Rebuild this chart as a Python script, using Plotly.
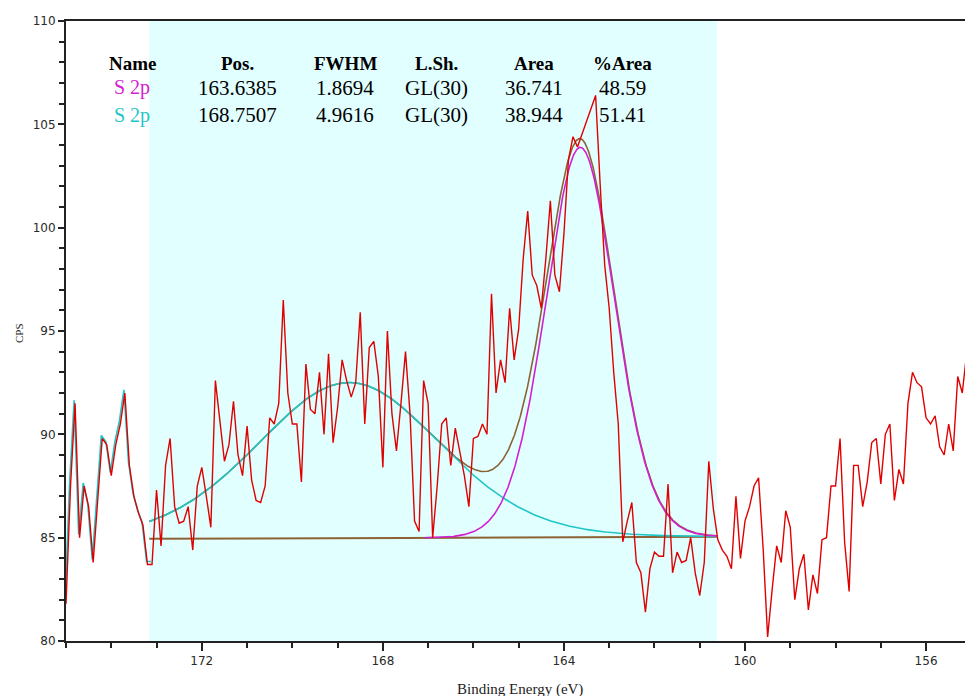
import numpy as np
import plotly.graph_objects as go

# ---- measured spectrum (S 2p region), 0.1 eV steps from 175.0 eV downwards ----
be_first = 175.0
be_step = 0.1
cps = [
    81.8, 87.5, 91.5, 85.0, 87.5, 86.5, 83.8, 86.8, 89.8, 89.5,   # 175.0-174.1
    88.0, 89.5, 90.5, 92.0, 88.5, 87.0, 86.2, 85.6, 83.7, 83.7,   # 174.0-173.1
    87.3, 84.6, 88.5, 89.8, 86.5, 85.7, 85.8, 86.5, 84.4, 87.5,   # 173.0-172.1
    88.4, 87.0, 85.5, 92.6, 90.5, 88.7, 89.5, 91.6, 89.0, 88.0,   # 172.0-171.1
    90.4, 87.8, 86.8, 86.7, 87.5, 90.8, 90.5, 91.5, 96.5, 92.0,   # 171.0-170.1
    90.5, 90.5, 87.7, 93.4, 91.2, 91.0, 93.0, 90.0, 93.9, 89.6,   # 170.0-169.1
    91.3, 93.6, 92.6, 91.8, 92.5, 95.9, 90.5, 94.2, 94.5, 92.8,   # 169.0-168.1
    88.4, 95.0, 91.0, 89.2, 91.5, 94.0, 91.0, 85.8, 85.3, 92.6,   # 168.0-167.1
    91.5, 85.0, 87.5, 90.5, 90.8, 88.5, 90.3, 89.2, 88.0, 86.5,   # 167.0-166.1
    89.8, 89.9, 90.5, 90.0, 96.8, 92.0, 93.6, 92.5, 96.1, 93.6,   # 166.0-165.1
    95.1, 98.5, 100.8, 97.7, 97.2, 96.1, 98.5, 101.3, 97.7, 96.9, # 165.0-164.1
    99.7, 103.3, 104.4, 103.9, 104.5, 105.1, 105.7, 106.4, 102.1, 98.2,  # 164.0-163.1
    96.1, 93.0, 90.5, 84.8, 85.8, 86.7, 83.8, 83.3, 81.4, 83.5,   # 163.0-162.1
    84.3, 84.1, 84.1, 87.6, 83.3, 84.3, 83.8, 83.9, 85.0, 83.3,   # 162.0-161.1
    82.2, 83.8, 88.7, 86.4, 84.9, 84.4, 84.1, 83.5, 87.0, 84.0,   # 161.0-160.1
    85.8, 86.5, 87.5, 87.9, 84.5, 80.2, 82.5, 84.6, 83.8, 86.3,   # 160.0-159.1
    85.5, 82.0, 83.5, 84.2, 81.5, 83.2, 82.3, 84.9, 85.0, 87.5,   # 159.0-158.1
    87.5, 89.8, 84.8, 82.4, 88.5, 88.5, 86.5, 87.7, 89.6, 89.8,   # 158.0-157.1
    87.6, 90.0, 90.5, 86.8, 88.3, 87.6, 91.5, 93.0, 92.5, 92.3,   # 157.0-156.1
    90.8, 90.5, 90.9, 89.4, 89.0, 90.5, 89.2, 92.8, 92.0, 94.0,   # 156.0-155.1
]
be = np.round(be_first - be_step * np.arange(len(cps)), 2)
cps = np.array(cps)

# ---- peak-fit table ----
peak_names = ["S 2p", "S 2p"]
peak_pos = [163.6385, 168.7507]
peak_fwhm = [1.8694, 4.9616]
peak_lsh = ["GL(30)", "GL(30)"]
peak_mix = [30, 30]
peak_area = [36.741, 38.944]
peak_pct = [48.59, 51.41]
peak_colors = ["#d21fd2", "#1fc6c8"]

# fit region (eV) and background end values (CPS) at its high/low BE ends
region_be = [173.16, 160.62]
bg_ends = [84.95, 85.05]

# axis settings
x_range = [175.0, 155.14]
y_range = [80, 110]

BROWN = "#8c6234"
RED = "#e00000"


def gl_shape(x, pos, fwhm, mix):
    """CasaXPS product Gaussian-Lorentzian line shape with unit height."""
    m = mix / 100.0
    u = (x - pos) ** 2 / fwhm ** 2
    return np.exp(-4 * np.log(2) * (1 - m) * u) / (1 + 4 * m * u)


# height of each component from its area
grid = np.linspace(-60, 60, 240001)
heights = []
for pos, fw, mix, area in zip(peak_pos, peak_fwhm, peak_mix, peak_area):
    unit_area = np.trapezoid(gl_shape(grid, 0.0, fw, mix), grid)
    heights.append(area / unit_area)

# fine grid across the region, high BE -> low BE
e_fit = np.linspace(region_be[0], region_be[1], 1255)
comps = [h * gl_shape(e_fit, p, f, m)
         for h, p, f, m in zip(heights, peak_pos, peak_fwhm, peak_mix)]
total = np.sum(comps, axis=0)

# Shirley-type background: step follows the integrated peak intensity
rev = total[::-1]
e_rev = e_fit[::-1]
cum = np.concatenate([[0], np.cumsum(0.5 * (rev[1:] + rev[:-1]) * np.abs(np.diff(e_rev)))])
frac = (cum / cum[-1])[::-1]          # 1 at high-BE end, 0 at low-BE end
background = bg_ends[1] + (bg_ends[0] - bg_ends[1]) * frac
envelope = background + total

fig = go.Figure()

# highlighted fit region
fig.add_shape(type="rect", xref="x", yref="paper",
              x0=region_be[0], x1=region_be[1], y0=0, y1=1,
              fillcolor="#e2ffff", line_width=0, layer="below")

# background
fig.add_trace(go.Scatter(x=e_fit, y=background, mode="lines",
                         line=dict(color=BROWN, width=2), hoverinfo="skip"))
# envelope
fig.add_trace(go.Scatter(x=e_fit, y=envelope, mode="lines",
                         line=dict(color=BROWN, width=1.6), hoverinfo="skip"))
# components (cyan under magenta)
for comp, col in list(zip(comps, peak_colors))[::-1]:
    y = np.where(comp >= 0.005, background + comp, np.nan)
    fig.add_trace(go.Scatter(x=e_fit, y=y, mode="lines", connectgaps=False,
                             line=dict(color=col, width=1.6), hoverinfo="skip"))

# cyan trace following the counts on the high-BE side of the region
left = be >= region_be[0] - 0.06
fig.add_trace(go.Scatter(x=be[left] + 0.02, y=cps[left] + 0.15, mode="lines",
                         line=dict(color=peak_colors[1], width=1.6),
                         hoverinfo="skip"))

# measured counts
fig.add_trace(go.Scatter(x=be, y=cps, mode="lines",
                         line=dict(color=RED, width=1.4)))

# ---- peak table ----
plot_l, plot_r, plot_t, plot_b = 66, 965, 21, 641
def px_x(px):
    return (px - plot_l) / (plot_r - plot_l)
def px_y(py):
    return (plot_b - py) / (plot_b - plot_t)

col_px = [132, 237, 345, 436, 534, 622]
row_px = [63, 88, 115]
headers = ["Name", "Pos.", "FWHM", "L.Sh.", "Area", "%Area"]
table_font = "Liberation Serif, Times New Roman, serif"

annotations = []
for cx, txt in zip(col_px, headers):
    annotations.append(dict(x=px_x(cx), y=px_y(row_px[0]), xref="paper", yref="paper",
                            text=f"<b>{txt}</b>", showarrow=False,
                            font=dict(family=table_font, size=19, color="black"),
                            xanchor="center", yanchor="middle"))
for i in range(len(peak_names)):
    cells = [peak_names[i], f"{peak_pos[i]:.4f}", f"{peak_fwhm[i]:.4f}",
             peak_lsh[i], f"{peak_area[i]:.3f}", f"{peak_pct[i]:.2f}"]
    for j, (cx, txt) in enumerate(zip(col_px, cells)):
        colr = peak_colors[i] if j == 0 else "black"
        size = 20 if j == 0 else 21
        annotations.append(dict(x=px_x(cx), y=px_y(row_px[i + 1]), xref="paper", yref="paper",
                                text=txt, showarrow=False,
                                font=dict(family=table_font, size=size, color=colr),
                                xanchor="center", yanchor="middle"))

# axis titles
annotations.append(dict(x=px_x(520), y=px_y(689), xref="paper", yref="paper",
                        text="Binding Energy (eV)", showarrow=False,
                        font=dict(family=table_font, size=15, color="#222"),
                        xanchor="center", yanchor="middle"))
annotations.append(dict(x=px_x(19), y=px_y(333), xref="paper", yref="paper",
                        text="CPS", showarrow=False, textangle=-90,
                        font=dict(family=table_font, size=11, color="#222"),
                        xanchor="center", yanchor="middle"))

tick_font = dict(family="DejaVu Sans, Verdana, sans-serif", size=12, color="#2a2a2a")

fig.update_layout(
    width=965, height=696,
    margin=dict(l=plot_l, r=965 - plot_r, t=plot_t, b=696 - plot_b),
    paper_bgcolor="white", plot_bgcolor="white",
    showlegend=False,
    annotations=annotations,
    xaxis=dict(range=x_range, showgrid=False, zeroline=False,
               showline=True, linecolor="#222", linewidth=2, mirror=True,
               ticks="outside", ticklen=8, tickwidth=2, tickcolor="#222",
               tick0=172, dtick=4, tickfont=tick_font,
               minor=dict(ticks="outside", ticklen=5, tickwidth=2, tickcolor="#222",
                          dtick=1, tick0=172, showgrid=False)),
    yaxis=dict(range=y_range, showgrid=False, zeroline=False,
               showline=True, linecolor="#222", linewidth=2,
               ticks="outside", ticklen=6, tickwidth=2, tickcolor="#222",
               tick0=80, dtick=5, tickfont=tick_font,
               minor=dict(ticks="outside", ticklen=5, tickwidth=2, tickcolor="#222",
                          dtick=1, showgrid=False)),
)

fig.write_html("out.html")
